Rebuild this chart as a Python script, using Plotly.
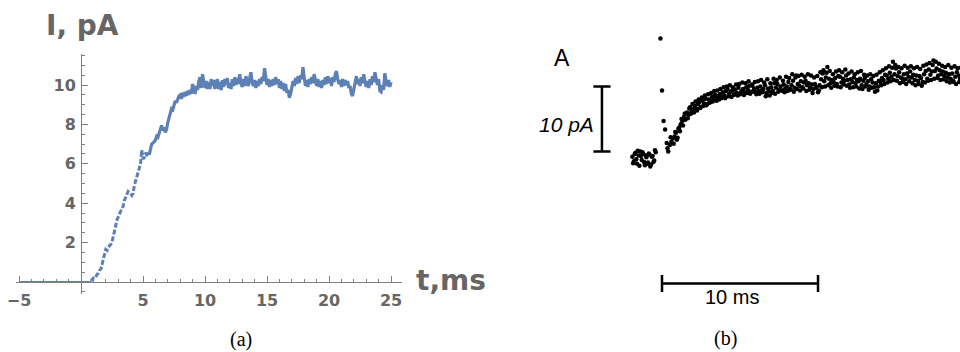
import plotly.graph_objects as go

# ---------------- data: panel (a) ----------------
baseline_t = [-5.0, 0.8]
baseline_I = [0.0, 0.0]

current_t0 = 0.8      # ms, first sample of the simulated current
current_dt = 0.1      # ms, sampling step
current_I = [
    # 0.8 .. 7.9 ms (rise)
    0.05, 0.12, 0.2, 0.18, 0.3, 0.38, 0.45, 0.6, 0.65, 0.9,
    1.1, 1.5, 1.65, 1.6, 1.75, 1.85, 1.9, 2.05, 2.3, 2.6,
    2.85, 3.15, 3.3, 3.5, 3.6, 3.7, 3.85, 4.15, 4.3, 4.45,
    4.6, 4.55, 4.5, 4.4, 4.5, 4.9, 5.1, 5.35, 5.6, 5.8,
    6.0, 6.7, 6.25, 6.3, 6.5, 6.45, 6.6, 6.45, 6.8, 7.0,
    7.05, 7.15, 7.2, 7.4, 7.35, 7.55, 7.8, 7.95, 7.7, 7.85,
    7.6, 7.75, 8.1, 8.3, 8.5, 8.8, 8.75, 9.0, 9.2, 9.1,
    9.3, 9.45,
    # 8.0 .. 25.0 ms (plateau)
    9.5, 9.3, 9.6, 9.4, 9.65, 9.45, 9.7, 9.5, 9.75, 9.55,
    10.05, 9.7, 9.55, 9.95, 9.75, 10.2, 10.4, 9.85, 10.55, 10.2,
    9.85, 10.2, 9.8, 10.15, 9.8, 10.3, 9.95, 10.25, 9.8, 10.1,
    10.3, 9.8, 10.15, 9.75, 10.25, 9.9, 10.3, 10.0, 10.35, 9.85,
    10.1, 9.8, 10.3, 9.95, 10.4, 10.0, 10.35, 10.05, 10.55, 10.1,
    9.9, 10.3, 9.95, 10.45, 10.1, 9.95, 10.35, 10.65, 10.15, 9.95,
    10.25, 9.85, 10.2, 9.95, 10.3, 10.05, 10.4, 10.2, 10.85, 10.35,
    10.0, 10.3, 9.9, 10.25, 9.95, 10.3, 10.0, 10.4, 10.05, 10.3,
    9.85, 10.2, 9.8, 10.1, 9.7, 10.05, 9.6, 9.75, 9.35, 9.55,
    9.8, 10.2, 9.95, 10.35, 10.05, 10.45, 10.1, 10.5, 10.3, 10.9,
    10.35, 9.95, 10.25, 9.9, 10.3, 10.05, 10.4, 10.1, 10.55, 10.2,
    9.95, 10.3, 9.9, 10.2, 9.85, 10.25, 10.0, 10.4, 10.05, 10.45,
    10.1, 10.35, 9.95, 10.4, 10.15, 10.55, 10.7, 10.3, 10.05, 10.25,
    9.9, 10.3, 9.95, 10.25, 10.0, 10.2, 9.85, 9.95, 9.55, 9.45,
    9.85, 10.15, 10.45, 10.05, 10.3, 9.95, 10.4, 10.1, 10.55, 10.15,
    9.9, 10.2, 9.85, 10.3, 10.0, 10.45, 10.15, 10.65, 10.25, 10.0,
    10.3, 9.7, 9.65, 10.0, 9.75, 10.6, 10.2, 9.95, 10.25, 9.9,
    10.15,
]
dashed_count = 48   # samples drawn with the broken (dashed) line

x_tickvals = [-5, 5, 10, 15, 20, 25]
y_tickvals = [2, 4, 6, 8, 10]

# ---------------- data: panel (b) ----------------
record_t0 = -1.9
record_dt = 0.1
record_I = [
    0.2, -0.5, 0.8, -0.9, 0.4, 1.0, -0.3, 0.6, -1.1, 0.1,
    -0.7, 0.5, -1.0, 0.3, -0.4, 0.9, None, None, 18.4, 10.4,
    5.7, 4.4, 2.3, 1.0, 2.0, 2.5, 3.0, 3.3, 3.9, 3.1,
    4.7, 5.2, 5.7, 6.25, 5.9, 7.0, 6.6, 7.8, 7.2, 7.5,
    8.0, 7.6, 8.3, 8.6, 7.9, 8.8, 8.4, 9.1, 8.3, 9.0,
    8.6, 9.4, 9.0, 9.7, 8.8, 9.5, 9.8, 9.2, 10.1, 9.6,
    10.3, 10.6, 9.9, 10.2, 10.4, 9.7, 10.5, 10.0, 10.8, 9.8,
    10.3, 10.6, 10.1, 10.9, 10.5, 11.1, 10.2, 11.1, 10.6, 10.1,
    10.8, 10.3, 11.0, 10.4, 10.6, 11.2, 10.0, 10.7, 9.6, 10.9,
    10.3, 11.5, 10.8, 11.4, 10.5, 11.0, 10.4, 11.3, 10.7, 11.0,
    11.7, 10.6, 11.2, 11.9, 10.8, 12.7, 11.4, 11.1, 11.8, 10.9,
    11.6, 11.9, 11.2, 11.5, 10.8, 11.3, 10.6, 11.4, 10.9, 10.1,
    11.2, 12.1, 13.0, 11.8, 12.4, 14.0, 12.2, 11.5, 12.0, 11.7,
    12.3, 11.4, 12.6, 12.5, 11.6, 12.2, 11.9, 12.7, 12.0, 11.3,
    12.1, 11.7, 12.4, 11.5, 12.0, 11.8, 12.2, 11.2, 11.9, 12.3,
    11.4, 11.8, 11.0, 12.1, 11.6, 10.9, 11.5, 10.4, 11.9, 11.7,
    12.3, 12.0, 12.8, 12.7, 12.2, 13.1, 12.5, 14.8, 12.9, 13.75,
    12.6, 13.2, 12.4, 12.2, 12.9, 12.1, 13.0, 12.5, 13.3, 12.4,
    12.8, 12.0, 12.7, 11.9, 12.6, 12.3, 11.7, 12.9, 13.4, 12.2,
    13.6, 12.8, 13.3, 15.0, 13.4, 13.75, 12.7, 13.5, 12.9, 13.3,
    12.6, 13.1, 12.4, 12.9, 12.2, 13.0, 11.7, 12.5, 13.2, 12.7,
    12.2, 12.8,
]
record2_t0 = -1.85
record2_I = [
    -0.8, 0.6, -0.2, 1.1, -1.2, 0.3, 0.9, -0.6, 0.4, -0.9,
    0.7, -1.3, 0.2, -0.6, 1.2, None, None, None, None, None,
    None, None, 1.5, None, 3.2, None, 2.2, 4.0, 2.8, 4.5,
    4.1, 6.0, 5.0, 6.8, 6.9, 6.1, 7.6, 6.8, 8.3, 7.0,
    8.7, 7.3, 9.0, 7.7, 9.3, 8.0, 9.6, 8.1, 9.8, 8.5,
    10.0, 8.7, 10.3, 9.1, 10.4, 9.0, 10.6, 9.4, 10.9, 9.2,
    11.0, 9.5, 11.2, 9.4, 10.9, 9.8, 11.3, 9.6, 11.4, 10.0,
    11.6, 9.7, 11.5, 10.0, 11.8, 9.9, 11.3, 10.2, 11.7, 9.8,
    11.8, 9.9, 12.0, 10.1, 11.6, 9.5, 12.1, 10.3, 11.5, 10.0,
    12.2, 9.9, 12.0, 10.2, 12.4, 10.4, 11.9, 10.1, 12.5, 10.3,
    12.3, 10.5, 12.9, 10.2, 12.4, 10.6, 12.6, 10.4, 12.8, 10.7,
    12.5, 10.3, 12.9, 10.5, 12.7, 10.0, 12.4, 10.8, 12.6, 10.4,
    13.2, 10.9, 13.5, 11.0, 13.1, 11.2, 13.4, 10.8, 12.9, 11.1,
    13.3, 11.0, 13.5, 10.9, 13.2, 11.3, 13.6, 11.1, 13.0, 10.8,
    13.3, 10.9, 12.9, 11.0, 13.2, 10.7, 13.4, 10.6, 12.8, 11.0,
    12.7, 10.5, 12.9, 10.8, 12.6, 10.2, 12.8, 11.0, 13.2, 11.2,
    13.5, 11.4, 13.8, 11.6, 14.1, 11.8, 13.9, 12.0, 14.3, 11.9,
    14.0, 11.5, 13.8, 11.7, 14.2, 11.4, 13.9, 11.8, 14.1, 11.5,
    13.8, 11.2, 14.0, 11.4, 13.7, 11.1, 14.2, 11.6, 14.4, 11.9,
    14.6, 12.0, 14.3, 12.2, 14.8, 12.3, 14.5, 12.0, 14.2, 12.1,
    14.0, 11.8, 14.3, 11.6, 13.9, 11.9, 14.1, 11.4, 13.8, 11.7,
    13.9,
]
scale_pA = 10   # vertical calibration bar
scale_ms = 10   # horizontal calibration bar

# ---------------- styling / placement ----------------
W, H = 960, 352
BLUE = "#5E81B5"
GRAY = "#666666"
AXIS = "#7f7f7f"

def px(x):
    return x / W

def py(y):
    return (H - y) / H

fig = go.Figure()

# panel (a)
fig.add_trace(go.Scatter(x=baseline_t, y=baseline_I, mode="lines",
                         line=dict(color=BLUE, width=2), xaxis="x", yaxis="y"))
fig.add_trace(go.Scatter(y=current_I[:dashed_count], x0=current_t0, dx=current_dt,
                         mode="lines", line=dict(color=BLUE, width=3, dash="5px,2px"),
                         xaxis="x", yaxis="y"))
fig.add_trace(go.Scatter(y=current_I[dashed_count - 1:],
                         x0=current_t0 + (dashed_count - 1) * current_dt, dx=current_dt,
                         mode="lines", line=dict(color=BLUE, width=3.2),
                         xaxis="x", yaxis="y"))

# panel (b)
dot = dict(color="black", size=4.5, line=dict(width=0))
fig.add_trace(go.Scatter(y=record_I, x0=record_t0, dx=record_dt, mode="markers",
                         marker=dot, xaxis="x2", yaxis="y2", cliponaxis=True))
fig.add_trace(go.Scatter(y=record2_I, x0=record2_t0, dx=record_dt, mode="markers",
                         marker=dot, xaxis="x2", yaxis="y2", cliponaxis=True))

v_t = -3.85
v_lo = 1.0
cap_t = 0.55
h_I = -19.3
cap_I = 1.3
bar_line = dict(color="black", width=2.5)
fig.add_trace(go.Scatter(x=[v_t, v_t], y=[v_lo, v_lo + scale_pA], mode="lines",
                         line=bar_line, xaxis="x2", yaxis="y2"))
for yy in (v_lo, v_lo + scale_pA):
    fig.add_trace(go.Scatter(x=[v_t - cap_t, v_t + cap_t], y=[yy, yy], mode="lines",
                             line=bar_line, xaxis="x2", yaxis="y2"))
fig.add_trace(go.Scatter(x=[0, scale_ms], y=[h_I, h_I], mode="lines",
                         line=bar_line, xaxis="x2", yaxis="y2"))
for xx in (0, scale_ms):
    fig.add_trace(go.Scatter(x=[xx, xx], y=[h_I - cap_I, h_I + cap_I], mode="lines",
                             line=bar_line, xaxis="x2", yaxis="y2"))

tickfont = dict(family="DejaVu Sans", size=16, color=GRAY, weight="bold")

fig.update_layout(
    width=W, height=H, margin=dict(l=0, r=0, t=0, b=0, pad=0, autoexpand=False),
    paper_bgcolor="white", plot_bgcolor="white", showlegend=False,
    xaxis=dict(domain=[px(15.9), px(402.2)], range=[-5.25, 25.9],
               anchor="free", position=py(282), automargin=False,
               showline=True, linecolor=AXIS, linewidth=1,
               showgrid=False, zeroline=False,
               tickmode="array", tickvals=x_tickvals,
               ticks="inside", ticklen=6, tickcolor=AXIS, tickwidth=1,
               tickfont=tickfont, ticklabelstandoff=4,
               minor=dict(tick0=0, dtick=1, ticks="inside", ticklen=3,
                          tickcolor=AXIS, showgrid=False)),
    yaxis=dict(domain=[py(293.8), py(53.5)], range=[-0.6, 11.6],
               anchor="free", position=px(81), automargin=False,
               showline=True, linecolor=AXIS, linewidth=1,
               showgrid=False, zeroline=False,
               tickmode="array", tickvals=y_tickvals,
               ticks="inside", ticklen=6, tickcolor=AXIS, tickwidth=1,
               tickfont=tickfont, ticklabelstandoff=2,
               minor=dict(tick0=0, dtick=0.5, ticks="inside", ticklen=3,
                          tickcolor=AXIS, showgrid=False)),
    xaxis2=dict(domain=[px(560.6), 1.0], range=[-6.5, 19.1],
                anchor="y2", visible=False, automargin=False),
    yaxis2=dict(domain=[py(295), py(30)], range=[-21.08, 19.69],
                anchor="x2", visible=False, automargin=False),
)

ann = [
    dict(text="I, pA", x=px(82), y=py(25),
         font=dict(family="DejaVu Sans", size=28, color=GRAY, weight="bold")),
    dict(text="t,ms", x=px(451), y=py(280),
         font=dict(family="DejaVu Sans", size=28, color=GRAY, weight="bold")),
    dict(text="A", x=px(562), y=py(58),
         font=dict(family="Liberation Sans", size=23, color="black")),
    dict(text="<i>10 pA</i>", x=px(566), y=py(124),
         font=dict(family="Liberation Sans", size=21, color="black")),
    dict(text="10 ms", x=px(732), y=py(297),
         font=dict(family="Liberation Sans", size=20, color="black")),
    dict(text="(a)", x=px(241), y=py(339),
         font=dict(family="Liberation Serif", size=20, color="black")),
    dict(text="(b)", x=px(725), y=py(338),
         font=dict(family="Liberation Serif", size=20, color="black")),
]
for a in ann:
    fig.add_annotation(xref="paper", yref="paper", showarrow=False,
                       xanchor="center", yanchor="middle", **a)

fig.write_html(
    "out.html",
    config={"displayModeBar": False},
    post_script=(
        "document.documentElement.style.margin='0';"
        "document.body.style.margin='0';document.body.style.padding='0';"
        "document.body.style.overflow='hidden';"
        "var d=document.getElementById('{plot_id}');"
        "d.style.position='absolute';d.style.left='0px';d.style.top='0px';"
    ),
)
